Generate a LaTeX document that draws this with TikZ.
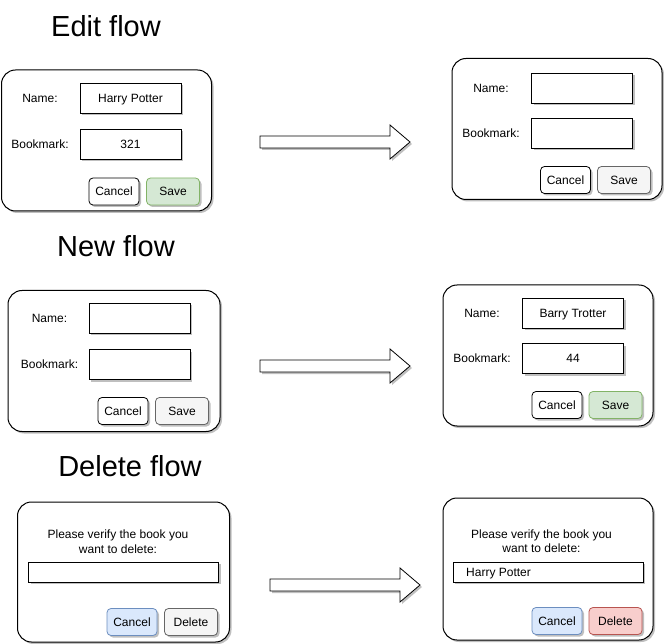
\documentclass[tikz,border=0pt]{standalone}
\usepackage{fontspec}
\setmainfont{Liberation Sans}
\usetikzlibrary{shadows}
\definecolor{gfill}{HTML}{D5E8D4}\definecolor{gline}{HTML}{82B366}
\definecolor{bfill}{HTML}{DAE8FC}\definecolor{bline}{HTML}{6C8EBF}
\definecolor{rfill}{HTML}{F8CECC}\definecolor{rline}{HTML}{B85450}
\definecolor{nfill}{HTML}{F5F5F5}\definecolor{nline}{HTML}{666666}
\begin{document}
\begin{tikzpicture}[x=1pt,y=-1pt,
  every node/.style={font=\fontsize{12}{15}\selectfont, inner sep=0pt},
  one/.style={text height=8.6pt, text depth=0pt},
  shd/.style={drop shadow={shadow xshift=2pt,shadow yshift=-2pt,opacity=0.25,fill=black}},
  dlg/.style={draw, line width=1pt, rounded corners=14pt, fill=white, shd, minimum width=210pt, minimum height=141pt},
  fld/.style={one, draw, line width=0.9pt, fill=white, shd, minimum width=101pt, minimum height=30pt},
  lfld/.style={draw, line width=0.9pt, fill=white, shd, minimum width=190pt, minimum height=20pt},
  btn/.style={one, draw, line width=0.8pt, rounded corners=4pt, shd, minimum width=50pt, minimum height=27pt},
  cbtn/.style={btn, fill=white, draw=black},
  gbtn/.style={btn, fill=gfill, draw=gline, minimum width=53pt},
  nbtn/.style={btn, fill=nfill, draw=nline, minimum width=53pt},
  bbtn/.style={btn, fill=bfill, draw=bline},
  rbtn/.style={btn, fill=rfill, draw=rline, minimum width=53pt},
  lbl/.style={one},
  ttl/.style={font=\fontsize{29}{35}\selectfont, text height=21pt, text depth=0pt},
  arr/.style={draw, line width=0.8pt, fill=white, shd}
]
\useasboundingbox (0,0) rectangle (664,644);

% Titles
\node[ttl] (t1) at (106,26) {Edit flow};
\node[ttl] (t2) at (116,246) {New flow};
\node[ttl] (t3) at (130,466) {Delete flow};

% ---------- Edit flow ----------
\node[dlg] (el) at (106.5,140.5) {};
\node[lbl] (eln) at (40,98) {Name:};
\node[fld] (elnf) at (130.5,98) {Harry Potter};
\node[lbl] (elb) at (40,144.5) {Bookmark:};
\node[fld] (elbf) at (130.5,144.5) {321};
\node[cbtn] (elc) at (114,191.5) {Cancel};
\node[gbtn] (els) at (173,191.5) {Save};

\node[dlg] (er) at (557,129) {};
\node[lbl] (ern) at (491,88) {Name:};
\node[fld] (ernf) at (582,88) {};
\node[lbl] (erb) at (491,133.5) {Bookmark:};
\node[fld] (erbf) at (582,133.5) {};
\node[cbtn] (erc) at (565.5,180) {Cancel};
\node[nbtn] (ers) at (624,180) {Save};

% ---------- New flow ----------
\node[dlg, minimum width=212pt] (nl) at (114,361) {};
\node[lbl] (nln) at (49.5,318) {Name:};
\node[fld] (nlnf) at (139.5,318) {};
\node[lbl] (nlb) at (49.5,364.5) {Bookmark:};
\node[fld] (nlbf) at (139.5,364.5) {};
\node[cbtn] (nlc) at (123,411) {Cancel};
\node[nbtn] (nls) at (182,411) {Save};

\node[dlg] (nr) at (548,355.5) {};
\node[lbl] (nrn) at (482,313) {Name:};
\node[fld] (nrnf) at (573,313) {Barry Trotter};
\node[lbl] (nrb) at (482,358.5) {Bookmark:};
\node[fld] (nrbf) at (573,358.5) {44};
\node[cbtn] (nrc) at (557,405) {Cancel};
\node[gbtn] (nrs) at (615.5,405) {Save};

% ---------- Delete flow ----------
\node[dlg, minimum width=212pt, minimum height=140pt] (dl) at (123.5,572) {};
\node[align=center, font=\fontsize{12}{14.5}\selectfont] (dlt) at (118,541.5) {Please verify the book you\\want to delete:};
\node[lfld] (dlf) at (123.5,572) {};
\node[bbtn] (dlc) at (132,622) {Cancel};
\node[nbtn] (dld) at (191,622) {Delete};

\node[dlg, minimum height=142pt] (dr) at (548,569) {};
\node[align=center, font=\fontsize{12}{14.5}\selectfont] (drt) at (541.5,541) {Please verify the book you\\want to delete:};
\node[lfld] (drf) at (548,572) {};
\node[lbl, anchor=west] (drft) at (466,572) {Harry Potter};
\node[bbtn] (drc) at (557,621) {Cancel};
\node[rbtn] (drd) at (615.5,621) {Delete};

% ---------- Arrows ----------
\coordinate (a1) at (260,130);
\coordinate (a2) at (260,354);
\coordinate (a3) at (270,573);
\foreach \a in {a1,a2,a3}{
  \draw[arr] ([yshift=-6pt]\a) -- ++(130,0) -- ++(0,-11) -- ++(20,17) -- ++(-20,17) -- ++(0,-11) -- ++(-130,0) -- cycle;
}
\end{tikzpicture}
\end{document}
